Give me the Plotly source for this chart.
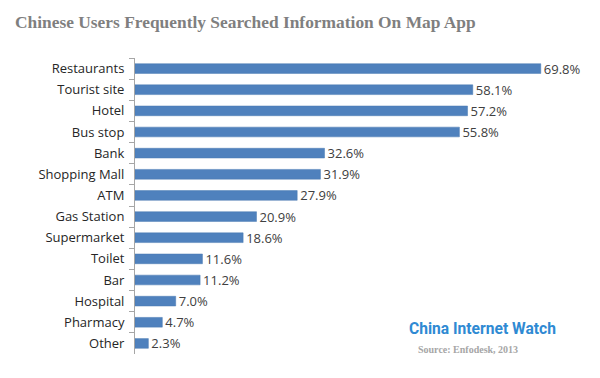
import plotly.graph_objects as go

categories = ["Restaurants", "Tourist site", "Hotel", "Bus stop", "Bank", "Shopping Mall", "ATM",
              "Gas Station", "Supermarket", "Toilet", "Bar", "Hospital", "Pharmacy", "Other"]
values = [69.8, 58.1, 57.2, 55.8, 32.6, 31.9, 27.9, 20.9, 18.6, 11.6, 11.2, 7.0, 4.7, 2.3]
labels = [f"{v:.1f}%" for v in values]

W, H = 600, 378
x0, x1 = 134.5, 590
y_top, y_bot = 58, 354
scale = 5.82
xmax = (x1 - x0) / scale
FONT = "Open Sans, DejaVu Sans, sans-serif"

fig = go.Figure(go.Bar(
    x=values, y=categories, orientation="h",
    marker=dict(color="#4f81bd", line=dict(color="#4a7ab3", width=0.5)),
    text=labels, textposition="outside", cliponaxis=False, constraintext="none",
    textfont=dict(family=FONT, size=13, color="#404040"),
    width=0.46,
))

fig.update_layout(
    width=W, height=H,
    paper_bgcolor="white", plot_bgcolor="white",
    margin=dict(l=x0, r=W - x1, t=y_top, b=H - y_bot, pad=0, autoexpand=False),
    showlegend=False,
    xaxis=dict(range=[0, xmax], visible=False, fixedrange=True, automargin=False),
    yaxis=dict(autorange="reversed", showline=True, linecolor="#a6a6a6", linewidth=1,
               ticks="outside", ticklen=5, tickcolor="#a6a6a6", tickson="boundaries",
               ticklabelstandoff=7, automargin=False, fixedrange=True,
               tickfont=dict(family=FONT, size=13, color="#262626"),
               showgrid=False, zeroline=False),
    annotations=[
        dict(text="<b>Chinese Users Frequently Searched Information On Map App</b>",
             xref="paper", yref="paper", x=(12 - x0) / (x1 - x0), y=1 + (y_top - 22) / (y_bot - y_top),
             xanchor="left", yanchor="middle", showarrow=False,
             font=dict(family="Liberation Serif, serif", size=17.4, color="#7f7f7f")),
        dict(text="<b>China Internet Watch</b>",
             xref="paper", yref="paper", x=(407 - x0) / (x1 - x0), y=(y_bot - 329) / (y_bot - y_top),
             xanchor="left", yanchor="middle", showarrow=False,
             font=dict(family="Liberation Sans Narrow, Roboto, sans-serif", size=15.6, color="#2f8ad3")),
        dict(text="<b>Source: Enfodesk, 2013</b>",
             xref="paper", yref="paper", x=(416 - x0) / (x1 - x0), y=(y_bot - 349) / (y_bot - y_top),
             xanchor="left", yanchor="middle", showarrow=False,
             font=dict(family="Liberation Serif, serif", size=10, color="#a6a6a6")),
    ],
)

fig.write_html("out.html", config={"displayModeBar": False},
               post_script="document.body.style.margin='0';document.body.style.padding='0';")
